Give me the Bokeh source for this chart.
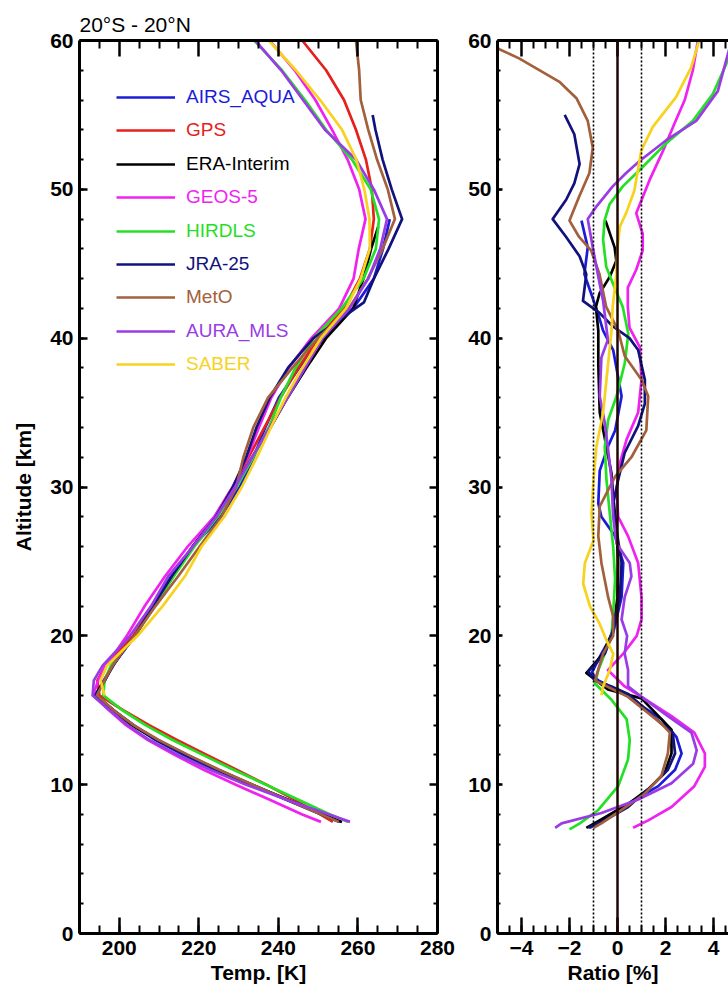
from bokeh.plotting import figure
from bokeh.models import (Range1d, LinearAxis, SingleIntervalTicker, FixedTicker,
                          Legend, LegendItem, Span, Title)
from bokeh.layouts import row
from bokeh.embed import file_html
from bokeh.resources import INLINE

# ---------------- data ----------------
NAMES = ["AIRS_AQUA", "GPS", "ERA-Interim", "GEOS-5", "HIRDLS",
         "JRA-25", "MetO", "AURA_MLS", "SABER"]
COLORS = ["#1c1cd8", "#e6201c", "#000000", "#f022f0", "#24e024",
          "#12127c", "#a3603c", "#9a3ce6", "#f7d21e"]

# tick positions for the label-less top / right frame axes
TEMP_MAJOR = [200, 220, 240, 260, 280]
TEMP_MINOR = [195, 205, 210, 215, 225, 230, 235, 245, 250, 255, 265, 270, 275]
ALT_MAJOR = [0, 10, 20, 30, 40, 50, 60]
ALT_MINOR = [2, 4, 6, 8, 12, 14, 16, 18, 22, 24, 26, 28, 32, 34, 36, 38,
             42, 44, 46, 48, 52, 54, 56, 58]
RATIO_MAJOR = [-4, -2, 0, 2, 4]
RATIO_MINOR = [-4.5, -3.5, -3, -2.5, -1.5, -1, -0.5, 0.5, 1, 1.5, 2.5, 3,
               3.5, 4.5]

# Temperature profiles (altitude km, temperature K)
GRID = [7.5, 8, 9, 10, 11, 12, 13, 14, 15, 16, 17, 18, 19, 20, 22, 24, 26, 28,
        30, 32, 34, 36, 38, 40, 42, 44, 46, 48, 50, 52, 54, 56, 58, 60]

Z_T_AIRS = GRID[:28]
T_AIRS = [255.7, 251.3, 242.2, 232.9, 224.0, 216.1, 209.1, 203.4, 198.6, 194.1,
          196.1, 198.3, 201.2, 203.9, 208.3, 213.1, 218.5, 225.5, 230.3, 233.8,
          236.7, 240.1, 245.2, 251.4, 258.8, 264.0, 266.3, 268.0]

Z_T_GPS = GRID
T_GPS = [253.7, 250.5, 244.0, 237.0, 229.5, 222.0, 214.5, 207.5, 201.0, 195.0,
         194.5, 196.5, 200.0, 203.5, 208.5, 213.5, 218.5, 224.0, 228.5, 232.5,
         236.5, 240.5, 245.0, 250.0, 256.5, 260.5, 263.0, 264.0, 263.5, 262.0,
         259.5, 256.5, 252.0, 246.0]

Z_T_ERA = GRID[:27] + [47.5]
T_ERA = [256.0, 251.3, 242.3, 233.4, 224.9, 217.0, 209.6, 203.1, 198.0, 193.8,
         196.4, 198.3, 201.0, 204.0, 208.5, 213.5, 218.5, 224.2, 229.0, 233.4,
         238.0, 242.3, 247.0, 252.0, 258.8, 261.4, 263.3, 265.1]

Z_T_GEOS = GRID
T_GEOS = [250.7, 246.0, 237.7, 229.3, 221.2, 213.9, 207.2, 201.7, 197.4, 193.4,
          194.7, 196.5, 199.3, 201.9, 206.4, 211.5, 217.2, 223.9, 228.5, 232.2,
          235.1, 238.2, 242.6, 248.3, 255.3, 258.9, 260.2, 261.9, 260.3, 257.4,
          253.5, 249.3, 244.1, 237.8]

Z_T_HIRDLS = GRID
T_HIRDLS = [257.5, 253.0, 244.9, 236.9, 228.7, 221.0, 213.4, 206.6, 200.8, 196.0,
            196.3, 197.9, 201.0, 204.0, 208.8, 213.7, 218.9, 224.7, 229.5, 233.7,
            237.6, 240.6, 244.3, 248.9, 255.9, 261.4, 264.5, 265.3, 263.2, 258.5,
            252.0, 246.7, 240.9, 233.9]

Z_T_JRA = GRID[:24] + [42.4] + GRID[25:31] + [55]
T_JRA = [255.3, 250.8, 241.8, 233.4, 224.7, 216.7, 209.5, 203.6, 198.6, 194.0,
         196.3, 198.5, 201.0, 204.0, 208.5, 213.2, 218.4, 224.3, 228.6, 231.9,
         234.5, 237.8, 242.4, 248.8, 261.5, 264.0, 267.7, 271.1, 268.5, 266.2,
         264.4, 263.7]

Z_T_METO = GRID
T_METO = [255.2, 250.8, 242.0, 233.6, 225.1, 217.3, 209.9, 203.6, 198.6, 194.4,
          196.3, 198.3, 201.0, 203.9, 209.1, 214.8, 220.2, 225.7, 229.4, 231.2,
          233.7, 237.4, 243.5, 249.9, 257.7, 262.5, 266.2, 269.3, 267.5, 264.8,
          262.6, 260.7, 260.3, 259.5]

Z_T_MLS = GRID
T_MLS = [258.0, 252.8, 241.9, 231.9, 222.8, 214.7, 207.6, 202.1, 197.6, 193.3,
         193.6, 195.8, 199.3, 202.7, 208.0, 212.3, 218.5, 224.4, 229.1, 233.4,
         237.8, 242.3, 246.7, 251.1, 257.9, 262.6, 265.6, 267.3, 264.0, 259.5,
         251.7, 246.2, 240.7, 234.2]

Z_T_SABER = GRID[9:]
T_SABER = [196.3, 195.3, 196.9, 200.7, 204.6, 210.9, 216.5, 220.7, 226.4, 230.8,
           234.6, 238.1, 241.8, 246.0, 250.7, 257.0, 260.7, 263.0, 262.9, 261.6,
           259.6, 256.0, 250.5, 244.4, 237.6]

# Ratio profiles (altitude km, ratio %)
Z_R_AIRS = [7.1, 7.9, 9.0, 9.9, 11.0, 12.1, 13.2, 14.4, 15.2, 16.0, 17.0, 17.5,
            18.8, 20.2, 22.6, 24.9, 26.7, 28.0, 28.9, 31.1, 32.7, 33.8, 36.1,
            39.2, 40.5, 41.7, 43.0, 44.3, 46.1, 47.9]
R_AIRS = [-1.15, -0.4, 0.72, 1.7, 2.4, 2.67, 2.46, 1.83, 1.1, 0.44, -0.8, -1.08,
          -0.67, -0.18, 0.17, 0.24, -0.1, -0.67, -0.8, -0.74, -0.4, -0.1, 0.17,
          -0.18, -0.6, -0.82, -1.1, -1.38, -1.24, -1.5]

Z_R_ERA = [7.1, 7.8, 8.7, 9.7, 10.8, 12.1, 13.7, 14.4, 15.8, 16.4, 17.5, 18.8,
           20.4, 22.6, 24.9, 27.1, 29.4, 30.9, 32.7, 35.0, 38.3, 40.5, 42.1,
           43.0, 44.1, 45.2, 46.1, 47.9]
R_ERA = [-1.3, -0.53, 0.44, 1.28, 1.97, 2.25, 2.25, 1.83, 1.0, -0.4, -1.3, -0.6,
         -0.18, 0.0, 0.03, -0.04, -0.18, -0.25, -0.46, -0.74, -0.8, -0.8, -0.9,
         -0.75, -0.33, -0.05, -0.12, -0.5]

Z_R_GEOS = [7.1, 7.6, 8.5, 9.9, 11.2, 12.1, 13.5, 14.6, 15.9, 16.6, 17.7, 18.8,
            20.0, 21.1, 22.6, 24.9, 26.7, 28.0, 29.8, 31.6, 33.2, 35.0, 37.2,
            39.4, 40.7, 42.1, 43.4, 44.6, 45.9, 47.0, 48.4, 50.6, 52.6, 54.4,
            56.0, 58.0, 60.0]
R_GEOS = [0.65, 1.28, 2.25, 3.2, 3.64, 3.64, 3.2, 2.25, 1.0, 0.3, -0.4, 0.24,
          0.8, 1.0, 1.0, 0.86, 0.44, 0.03, -0.04, 0.1, 0.38, 0.86, 1.0, 0.93,
          0.5, 0.43, 0.43, 0.78, 1.05, 1.05, 0.78, 1.33, 1.9, 2.37, 2.8, 3.14,
          3.35]

Z_R_HIRDLS = [7.0, 7.4, 8.3, 9.9, 11.7, 13.0, 14.4, 15.7, 16.8, 17.7, 18.8, 20.0,
              21.5, 23.8, 26.0, 28.2, 30.5, 32.7, 34.5, 36.1, 38.3, 40.3, 42.1,
              43.4, 44.8, 46.6, 47.9, 49.0, 50.2, 51.5, 53.1, 54.6, 56.4, 58.3,
              60.0]
R_HIRDLS = [-2.0, -1.57, -0.8, 0.03, 0.44, 0.51, 0.38, -0.25, -0.94, -0.8, -0.53,
            -0.25, -0.18, -0.1, -0.18, -0.32, -0.46, -0.53, -0.39, -0.04, 0.3,
            0.45, 0.22, -0.125, -0.47, -0.6, -0.54, -0.33, 0.22, 1.05, 2.03,
            3.14, 3.97, 4.5, 4.9]

Z_R_JRA = [7.1, 7.6, 8.5, 9.9, 11.0, 12.1, 13.5, 14.1, 15.5, 16.1, 16.6, 17.0,
           17.6, 18.8, 20.0, 21.1, 22.6, 24.9, 27.1, 28.9, 30.5, 32.3, 34.1,
           35.6, 37.2, 39.2, 40.0, 40.8, 41.7, 42.5, 44.3, 45.5, 46.8, 48.0,
           49.3, 50.4, 51.7, 53.7, 55.0]
R_JRA = [-1.22, -0.53, 0.44, 1.42, 2.1, 2.4, 2.3, 1.83, 0.86, 0.44, -0.25, -0.94,
         -1.22, -0.53, -0.25, -0.1, 0.1, 0.17, -0.04, -0.18, 0.03, 0.3, 0.86,
         1.14, 1.14, 0.86, 0.5, -0.2, -0.75, -1.44, -1.3, -1.58, -2.14, -2.7,
         -2.14, -1.8, -1.58, -1.8, -2.2]

Z_R_METO = [7.1, 7.4, 8.3, 9.4, 10.6, 12.1, 13.5, 14.1, 15.9, 17.0, 18.8, 20.0,
            21.3, 22.6, 24.9, 26.7, 28.7, 30.7, 32.0, 33.8, 36.1, 37.2, 38.8,
            40.5, 42.1, 44.3, 45.9, 46.8, 47.9, 49.5, 51.1, 52.8, 54.6, 56.1,
            57.2, 58.8, 59.4, 60.0]
R_METO = [-1.0, -0.67, 0.17, 1.14, 1.83, 2.1, 2.18, 1.83, 0.44, -0.94, -0.6,
          -0.18, -0.18, -0.39, -0.67, -0.8, -0.74, -0.1, 0.58, 1.2, 1.28, 1.0,
          0.3, 0.03, -0.47, -0.75, -1.1, -1.6, -2.0, -1.6, -1.17, -1.03, -1.24,
          -1.7, -2.4, -4.1, -4.9, -5.6]

Z_R_MLS = [7.1, 7.4, 8.1, 9.0, 10.1, 11.4, 12.3, 13.5, 14.6, 15.9, 16.6, 17.7,
           18.8, 20.0, 21.1, 22.6, 24.0, 24.9, 26.2, 28.0, 30.5, 32.5, 34.3,
           36.1, 38.7, 39.9, 40.8, 42.5, 44.3, 46.1, 48.0, 48.8, 50.2, 51.1,
           51.9, 53.3, 54.6, 56.6, 59.5, 60.0]
R_MLS = [-2.6, -2.33, -0.67, 0.86, 2.25, 3.15, 3.3, 3.08, 2.1, 1.0, 0.44, 0.44,
         0.3, 0.4, 0.17, 0.3, 0.58, 0.51, -0.04, -0.18, -0.25, -0.39, -0.53,
         -0.74, -0.67, -0.4, -0.47, -0.6, -0.82, -1.03, -1.24, -0.9, -0.2, 0.36,
         0.92, 2.03, 3.28, 4.18, 4.67, 4.8]

Z_R_SABER = [16.0, 16.6, 17.7, 18.8, 19.7, 20.8, 22.0, 23.5, 24.9, 26.4, 28.2,
             30.5, 32.7, 35.0, 38.3, 40.5, 42.1, 44.3, 46.1, 47.5, 48.4, 49.9,
             51.3, 52.6, 54.2, 56.2, 58.2, 60.0]
R_SABER = [-0.67, -0.6, -0.32, -0.18, -0.46, -0.74, -1.15, -1.43, -1.36, -1.0,
           -1.08, -1.0, -0.88, -0.6, -0.39, -0.25, -0.2, -0.05, 0.0, 0.1, 0.36,
           0.7, 0.85, 0.99, 1.47, 2.44, 3.07, 3.4]

TEMP = [(Z_T_AIRS, T_AIRS), (Z_T_GPS, T_GPS), (Z_T_ERA, T_ERA),
        (Z_T_GEOS, T_GEOS), (Z_T_HIRDLS, T_HIRDLS), (Z_T_JRA, T_JRA),
        (Z_T_METO, T_METO), (Z_T_MLS, T_MLS), (Z_T_SABER, T_SABER)]
RATIO = [(Z_R_AIRS, R_AIRS), None, (Z_R_ERA, R_ERA), (Z_R_GEOS, R_GEOS),
         (Z_R_HIRDLS, R_HIRDLS), (Z_R_JRA, R_JRA), (Z_R_METO, R_METO),
         (Z_R_MLS, R_MLS), (Z_R_SABER, R_SABER)]

TITLE = "20°S - 20°N"
FONT = "Liberation Sans"


def style_axis(ax, t_major, t_minor):
    ax.axis_line_width = 3
    ax.axis_line_color = "black"
    ax.major_tick_in = t_major
    ax.major_tick_out = 0
    ax.minor_tick_in = t_minor
    ax.minor_tick_out = 0
    ax.major_tick_line_width = 2.5
    ax.minor_tick_line_width = 2
    ax.major_label_text_font = FONT
    ax.major_label_text_font_style = "bold"
    ax.major_label_text_font_size = "21px"
    ax.major_label_text_color = "black"
    ax.axis_label_text_font = FONT
    ax.axis_label_text_font_style = "bold"
    ax.axis_label_text_font_size = "21px"
    ax.axis_label_text_color = "black"


def frame_axes(p, side, majors, minors, t_major, t_minor, line=True):
    """Label-less frame axes: only minor ticks are drawn, so no tick labels."""
    for ticks, length, lw in ((majors, t_major, 2.5), (minors, t_minor, 2)):
        ax = LinearAxis(ticker=FixedTicker(ticks=[], minor_ticks=ticks))
        ax.axis_line_width = 3 if line else 0
        ax.axis_line_color = "black"
        ax.major_tick_in = 0
        ax.major_tick_out = 0
        ax.minor_tick_in = length
        ax.minor_tick_out = 0
        ax.minor_tick_line_width = lw
        ax.major_label_standoff = 0
        ax.axis_label_standoff = 0
        p.add_layout(ax, side)
        line = False


def make_fig(width, xr, bl, br):
    p = figure(width=width, height=997, x_range=xr, y_range=Range1d(0, 60),
               output_backend="svg", toolbar_location=None,
               min_border_left=bl, min_border_right=br,
               min_border_top=40, min_border_bottom=64)
    p.outline_line_color = None
    p.xgrid.grid_line_color = None
    p.ygrid.grid_line_color = None
    p.background_fill_color = "white"
    p.border_fill_color = "white"
    return p


# ---------------- left panel: temperature ----------------
p1 = make_fig(460, Range1d(190, 280), 79, 23)
p1.xaxis.ticker = SingleIntervalTicker(interval=20, num_minor_ticks=4)
p1.yaxis.ticker = SingleIntervalTicker(interval=10, num_minor_ticks=5)
style_axis(p1.xaxis[0], 16, 8)
style_axis(p1.yaxis[0], 8, 4)
p1.xaxis.axis_label = "Temp. [K]"
p1.yaxis.axis_label = "Altitude [km]"
p1.xaxis.major_label_standoff = 7
p1.xaxis.axis_label_standoff = 3
p1.yaxis.major_label_standoff = 6
p1.yaxis.axis_label_standoff = 12

frame_axes(p1, "above", TEMP_MAJOR, TEMP_MINOR, 16, 8)
frame_axes(p1, "right", ALT_MAJOR, ALT_MINOR, 8, 4)

p1.add_layout(Title(text=TITLE, align="left", text_font=FONT,
                    text_font_size="21px", text_font_style="normal",
                    text_color="black"), "above")

renderers = []
for (z, t), c in zip(TEMP, COLORS):
    r = p1.line(t, z, line_color=c, line_width=2.7, line_join="round")
    renderers.append(r)

for k, (name, c, r) in enumerate(zip(NAMES, COLORS, renderers)):
    leg = Legend(items=[LegendItem(label=name, renderers=[r])],
                 location=(37, 825 - 33.4 * k),
                 label_text_color=c, label_text_font=FONT,
                 label_text_font_size="19px", glyph_width=59,
                 glyph_height=22, label_height=22, label_standoff=11,
                 padding=0, margin=0, spacing=0,
                 background_fill_alpha=0, border_line_alpha=0)
    p1.add_layout(leg)

# ---------------- right panel: ratio ----------------
p2 = make_fig(268, Range1d(-5, 4.625), 37, 0)
p2.xaxis.ticker = SingleIntervalTicker(interval=2, num_minor_ticks=4)
p2.yaxis.ticker = SingleIntervalTicker(interval=10, num_minor_ticks=5)
style_axis(p2.xaxis[0], 16, 8)
style_axis(p2.yaxis[0], 5, 3)
p2.xaxis.axis_label = "Ratio [%]"
p2.xaxis.major_label_standoff = 7
p2.xaxis.axis_label_standoff = 3
p2.yaxis.major_label_standoff = 6

frame_axes(p2, "above", RATIO_MAJOR, RATIO_MINOR, 16, 8)

for data, c in zip(RATIO, COLORS):
    if data is None:
        continue
    z, rr = data
    p2.line(rr, z, line_color=c, line_width=2.7, line_join="round")

for loc in (-1, 1):
    p2.add_layout(Span(location=loc, dimension="height", line_color="black",
                       line_width=1.6, line_dash="2 2"))
p2.add_layout(Span(location=0, dimension="height", line_color="#200600",
                   line_width=2.5))

layout = row(p1, p2)
open("out.html", "w").write(file_html(layout, INLINE))
